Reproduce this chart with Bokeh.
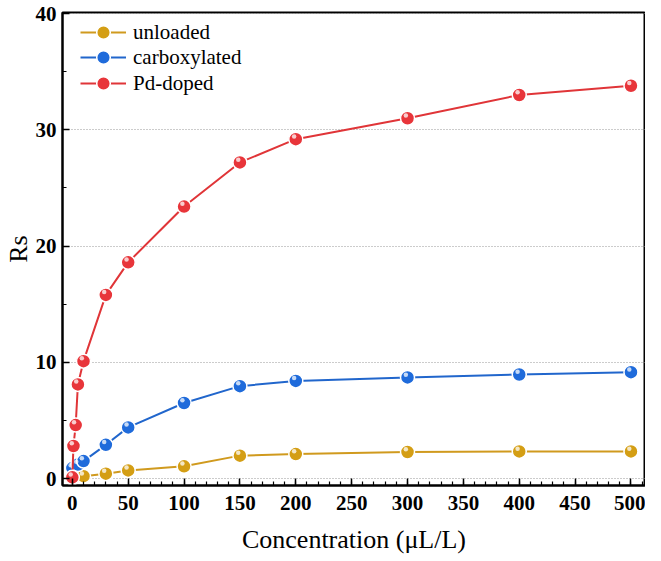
from bokeh.plotting import figure
from bokeh.models import ColumnDataSource, Legend, LegendItem, SingleIntervalTicker
from bokeh.transform import dodge
from bokeh.embed import file_html
from bokeh.resources import INLINE

# ---- data ----
x_unloaded = [0, 10, 30, 50, 100, 150, 200, 300, 400, 500]
y_unloaded = [0.05, 0.2, 0.42, 0.7, 1.05, 1.97, 2.1, 2.28, 2.33, 2.33]

x_carbox = [0, 5, 10, 30, 50, 100, 150, 200, 300, 400, 500]
y_carbox = [0.9, 1.2, 1.5, 2.9, 4.4, 6.5, 7.95, 8.4, 8.7, 8.95, 9.15]

x_pd = [0, 1, 3, 5, 10, 30, 50, 100, 150, 200, 300, 400, 500]
y_pd = [0.1, 2.8, 4.6, 8.1, 10.1, 15.8, 18.6, 23.4, 27.2, 29.2, 31.0, 33.0, 33.8]

series_names = ["unloaded", "carboxylated", "Pd-doped"]
x_label = "Concentration (\u03bcL/L)"
y_label = "Rs"

# ---- styles ----
fill_colors = ["#D49E14", "#1F6BDB", "#E8353A"]
line_colors = ["#D09A1E", "#2166CC", "#E03538"]
serif = "Liberation Serif"
FRAME_H = 473            # approx frame height (px) for legend placement
LEG_ROWS = [20, 45, 71]  # legend row centres below frame top (px)
GLYPH_H = 34

p = figure(width=645, height=556, x_range=(-8.8, 513), y_range=(-0.6, 40.1),
           output_backend="svg", toolbar_location=None,
           min_border_left=50, min_border_right=0, min_border_top=12, min_border_bottom=10)

p.background_fill_color = "white"
p.border_fill_color = "white"
p.outline_line_color = "black"
p.outline_line_width = 2

p.xgrid.visible = False
p.ygrid.grid_line_color = "#999999"
p.ygrid.grid_line_dash = "1 2"
p.ygrid.grid_line_width = 1

p.xaxis.ticker = SingleIntervalTicker(interval=50, num_minor_ticks=5)
p.yaxis.ticker = SingleIntervalTicker(interval=10, num_minor_ticks=2)
p.ygrid.ticker = p.yaxis[0].ticker

for ax in (p.xaxis[0], p.yaxis[0]):
    ax.axis_line_width = 2
    ax.axis_line_color = "black"
    ax.major_tick_in = 7
    ax.major_tick_out = 0
    ax.minor_tick_in = 4
    ax.minor_tick_out = 0
    ax.major_tick_line_width = 1.5
    ax.minor_tick_line_width = 1.2
    ax.major_tick_line_color = "black"
    ax.minor_tick_line_color = "black"
    ax.major_label_text_font = serif
    ax.major_label_text_font_style = "bold"
    ax.major_label_text_font_size = "21px"
    ax.major_label_text_color = "black"
    ax.axis_label_text_font = serif
    ax.axis_label_text_font_style = "normal"
    ax.axis_label_text_font_size = "26px"
    ax.axis_label_text_color = "black"

p.xaxis.axis_label = x_label
p.yaxis.axis_label = y_label
p.xaxis.major_label_standoff = 10
p.xaxis.axis_label_standoff = 12
p.yaxis.major_label_standoff = 6
p.yaxis.axis_label_standoff = 0

data = [(x_unloaded, y_unloaded), (x_carbox, y_carbox), (x_pd, y_pd)]
for i, ((xs, ys), name, fc, lc) in enumerate(zip(data, series_names, fill_colors, line_colors)):
    src = ColumnDataSource(dict(x=xs, y=ys))
    ln = p.line("x", "y", source=src, line_color=lc, line_width=2)
    sc = p.scatter("x", "y", source=src, size=14, marker="circle",
                   fill_color=fc, line_color="white", line_width=1.5)
    p.scatter(x=dodge("x", -1.5, range=p.x_range), y=dodge("y", 0.24, range=p.y_range),
              source=src, size=4.5, marker="circle",
              fill_color="white", fill_alpha=0.75, line_alpha=0)
    lg = Legend(items=[LegendItem(label=name, renderers=[ln, sc])],
                location=(18, FRAME_H - LEG_ROWS[i] - GLYPH_H // 2),
                label_text_font=serif, label_text_font_size="21px",
                label_text_color="black", label_text_baseline="middle",
                glyph_width=46, glyph_height=GLYPH_H, label_height=GLYPH_H,
                label_standoff=7, spacing=0, padding=0, margin=0,
                border_line_alpha=0, background_fill_alpha=0)
    p.add_layout(lg, "center")

open("out.html", "w").write(file_html(p, INLINE))
